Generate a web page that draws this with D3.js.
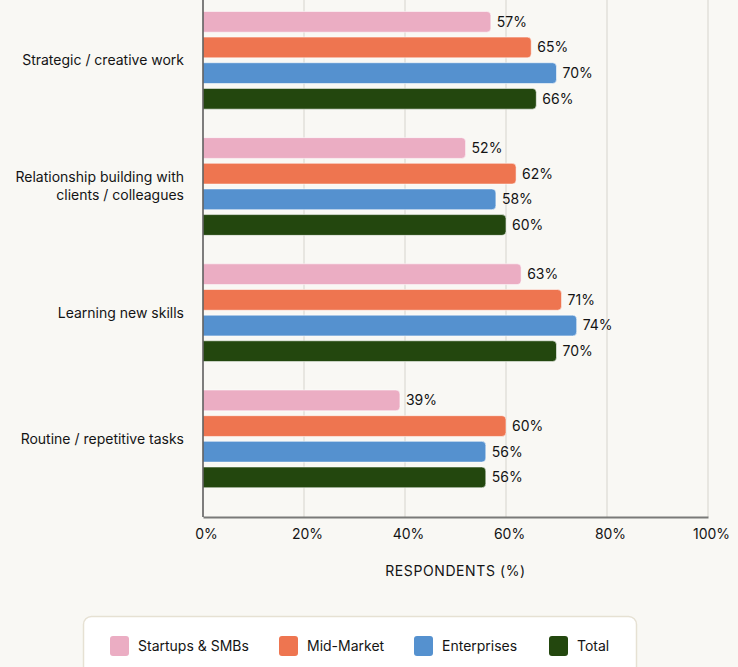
<!DOCTYPE html>
<html>
<head>
<meta charset="utf-8">
<script src="https://cdn.jsdelivr.net/npm/d3@7"></script>
<style>
  html, body { margin: 0; padding: 0; background: #f9f8f4; }
  svg { display: block; font-family: Inter, "Noto Sans", sans-serif; }
</style>
</head>
<body>
<svg id="chart" width="738" height="667"></svg>
<script>
// chart data
const categories = [
  ["Strategic / creative work"],
  ["Relationship building with", "clients / colleagues"],
  ["Learning new skills"],
  ["Routine / repetitive tasks"]
];
const series = ["Startups & SMBs", "Mid-Market", "Enterprises", "Total"];
const startups   = [57, 52, 63, 39];
const midMarket  = [65, 62, 71, 60];
const enterprises = [70, 58, 74, 56];
const total      = [66, 60, 70, 56];
const xTicks = [0, 20, 40, 60, 80, 100];
const colors = ["#ebadc3", "#ee7550", "#5591cf", "#23470e"];

const values = [startups, midMarket, enterprises, total];
const rows = categories.map((c, i) => ({
  key: i,
  label: c,
  bars: series.map((s, j) => ({ series: s, value: values[j][i] }))
}));

const svg = d3.select("#chart");
const left = 203, right = 708, axisY = 517;

const x = d3.scaleLinear().domain([0, 100]).range([left, right]);
const y0 = d3.scaleBand().domain(rows.map(d => d.key)).range([-2.8, 502]);
const y1 = d3.scaleBand().domain(series).range([0, y0.bandwidth()])
    .paddingInner(0.19).paddingOuter(0.555);
const color = d3.scaleOrdinal(series, colors);

// gridlines
svg.append("g")
  .selectAll("line")
  .data(xTicks.filter(t => t > 0))
  .join("line")
    .attr("x1", d => x(d)).attr("x2", d => x(d))
    .attr("y1", -5).attr("y2", axisY)
    .attr("stroke", "#d6d4cd")
    .attr("stroke-width", 1);

// bars
const group = svg.append("g")
  .selectAll("g")
  .data(rows)
  .join("g")
    .attr("transform", d => `translate(0,${y0(d.key)})`);

group.selectAll("path")
  .data(d => d.bars)
  .join("path")
    .attr("fill", d => color(d.series))
    .attr("stroke", "rgba(255,255,255,0.55)")
    .attr("stroke-width", 1)
    .attr("d", d => {
      const x0 = x(0), x1 = x(d.value), yy = y1(d.series), h = y1.bandwidth(), r = 4;
      return `M${x0},${yy}H${x1 - r}Q${x1},${yy} ${x1},${yy + r}V${yy + h - r}Q${x1},${yy + h} ${x1 - r},${yy + h}H${x0}Z`;
    });

group.selectAll("text")
  .data(d => d.bars)
  .join("text")
    .attr("x", d => x(d.value) + 6)
    .attr("y", d => y1(d.series) + y1.bandwidth() / 2)
    .attr("dy", "0.35em")
    .attr("font-size", 14)
    .attr("fill", "#141414")
    .text(d => d.value + "%");

// category labels
const catText = svg.append("g")
  .selectAll("text")
  .data(rows)
  .join("text")
    .attr("text-anchor", "end")
    .attr("font-size", 14)
    .attr("fill", "#141414")
    .attr("transform", d => `translate(184,${y0(d.key) + y0.bandwidth() / 2})`);

catText.selectAll("tspan")
  .data(d => d.label.map((t, i, a) => ({ t, i, n: a.length })))
  .join("tspan")
    .attr("x", 0)
    .attr("y", d => (d.i - (d.n - 1) / 2) * 18)
    .attr("dy", "0.35em")
    .text(d => d.t);

// axes
const xAxis = svg.append("g")
  .attr("transform", `translate(0,${axisY})`)
  .call(d3.axisBottom(x).tickValues(xTicks).tickFormat(d => d + "%").tickSize(0).tickPadding(12));
xAxis.select(".domain").attr("stroke", "#7a7a78").attr("stroke-width", 2);
xAxis.selectAll("text")
  .attr("font-size", 14)
  .attr("font-family", "Inter, 'Noto Sans', sans-serif")
  .attr("fill", "#141414")
  .attr("dx", 3);

svg.append("line")
  .attr("x1", left).attr("x2", left)
  .attr("y1", -5).attr("y2", axisY)
  .attr("stroke", "#555")
  .attr("stroke-width", 1.5);

svg.append("text")
  .attr("x", (left + right) / 2)
  .attr("y", 571)
  .attr("dy", "0.35em")
  .attr("text-anchor", "middle")
  .attr("font-size", 14)
  .attr("letter-spacing", "0.6px")
  .attr("fill", "#141414")
  .text("RESPONDENTS (%)");

// legend
svg.append("rect")
  .attr("x", 83.5).attr("y", 616.5)
  .attr("width", 553).attr("height", 70)
  .attr("rx", 8)
  .attr("fill", "#ffffff")
  .attr("stroke", "#e6e1d3")
  .attr("stroke-width", 1.5);

const legendX = [110, 279, 414, 549];
const item = svg.append("g")
  .selectAll("g")
  .data(series)
  .join("g")
    .attr("transform", (d, i) => `translate(${legendX[i]},636)`);

item.append("rect")
  .attr("width", 19).attr("height", 20).attr("rx", 3)
  .attr("fill", d => color(d));

item.append("text")
  .attr("x", 28)
  .attr("y", 10.5)
  .attr("dy", "0.35em")
  .attr("font-size", 14)
  .attr("fill", "#141414")
  .text(d => d);
</script>
</body>
</html>
